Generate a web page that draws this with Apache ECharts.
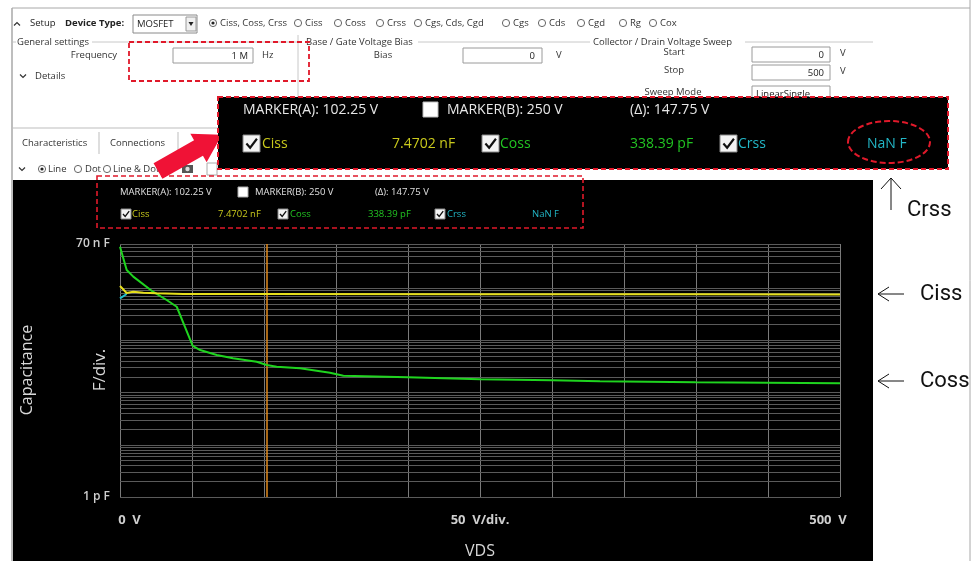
<!DOCTYPE html>
<html><head><meta charset="utf-8">
<script src="https://cdn.jsdelivr.net/npm/echarts@6/dist/echarts.min.js"></script>
<style>html,body{margin:0;padding:0;background:#fff}#c{width:977px;height:561px}</style>
</head><body><div id="c"></div>
<script>
// ---------- data (VDS in V, capacitance in pF) ----------
const vdsCiss = [0, 4.6, 9.2, 16.2, 25.4, 43.8, 100, 250, 400, 500];
const ciss    = [11000, 8070, 8540, 8170, 7960, 7720, 7700, 7650, 7600, 7550];
const vdsCoss = [0, 4.65, 9.2, 22.9, 32.4, 39.4, 45.1, 50.5, 55.6, 67.2, 78.5, 94.9, 101.9, 108.8, 125, 145.8, 155.1, 199.8, 250, 299.8, 333.3, 399.8, 449.3, 500];
const coss    = [62100, 22200, 16600, 8540, 5920, 4400, 1820, 780, 653, 524, 453, 390, 337, 313, 292, 240, 210, 196, 179, 172, 164, 157, 154, 150];
const vdsCrss = [0, 4.6];
const crss    = [6380, 7710];
const markerA = 102.25;
const markerALabel = 'MARKER(A): 102.25 V';
const markerBLabel = 'MARKER(B): 250 V';
const deltaLabel = '(\u0394): 147.75 V';
const seriesNames = ['Ciss', 'Coss', 'Crss'];
const readouts = ['7.4702 nF', '338.39 pF', 'NaN F'];
const xTickText = {0: '{a|0  V}', 250: '{b|50  V/div.}', 500: '{c|500  V}'};
const yMinLabel = '1 p F', yMaxLabel = '70 n F';
const yMin = 1, yMax = 70000;
const decades = [1, 10, 100, 1000, 10000];
const deviceTypes = ['Ciss, Coss, Crss', 'Ciss', 'Coss', 'Crss', 'Cgs, Cds, Cgd', 'Cgs', 'Cds', 'Cgd', 'Rg', 'Cox'];

// ---------- helpers ----------
const COL = {ciss: '#e6df1c', coss: '#1fd41f', crss: '#1fbfcf', txtCiss: '#c9c91c', txtCoss: '#22c422', txtCrss: '#22b6c6'};
const UI = '"Open Sans", "Noto Sans", sans-serif';
const pair = (xs, ys) => xs.map((x, i) => [x, ys[i]]);
const G = [];
function txt(x, y, text, font, fill, align, z) {
  G.push({type: 'text', z: z || 5, style: {x, y, text, font, fill: fill || '#222', textAlign: align || 'left', textVerticalAlign: 'middle'}});
}
function vtxt(x, y, text, font, fill) {
  G.push({type: 'text', z: 5, rotation: Math.PI / 2, x, y, style: {x: 0, y: 0, text, font, fill, textAlign: 'center', textVerticalAlign: 'middle'}});
}
function line(x1, y1, x2, y2, stroke, w, z, dash) {
  G.push({type: 'line', z: z || 4, shape: {x1, y1, x2, y2}, style: {stroke, lineWidth: w || 1, lineDash: dash || null}});
}
function rect(x, y, w, h, fill, stroke, z, lw, dash) {
  G.push({type: 'rect', z: z || 4, shape: {x, y, width: w, height: h}, style: {fill: fill || 'none', stroke: stroke || null, lineWidth: lw || 1, lineDash: dash || null}});
}
function radio(x, y, on) {
  G.push({type: 'circle', z: 5, shape: {cx: x, cy: y, r: 3.6}, style: {fill: '#fff', stroke: '#666', lineWidth: 1}});
  if (on) G.push({type: 'circle', z: 6, shape: {cx: x, cy: y, r: 1.6}, style: {fill: '#222'}});
}
function checkbox(x, y, s, checked, z) {
  rect(x, y, s, s, '#f4f4f4', '#888', z, 1);
  if (checked) G.push({type: 'polyline', z: z + 1, shape: {points: [[x + s * 0.2, y + s * 0.5], [x + s * 0.42, y + s * 0.75], [x + s * 0.82, y + s * 0.22]]}, style: {stroke: '#111', lineWidth: Math.max(1.3, s / 8), fill: null}});
}
function chevron(x, y, up) {
  const d = up ? -1 : 1;
  G.push({type: 'polyline', z: 5, shape: {points: [[x - 3, y - 1.5 * d], [x, y + 1.5 * d], [x + 3, y - 1.5 * d]]}, style: {stroke: '#333', lineWidth: 1.2, fill: null}});
}

// ---------- window chrome ----------
line(12, 8, 970, 8, '#a8a8a8', 1, 3);
line(12, 8, 12, 561, '#a8a8a8', 1.5, 3);
line(970, 0, 970, 561, '#a8a8a8', 1, 3);

// Row 1
chevron(17, 24, true);
txt(30, 23, 'Setup', '9.5px ' + UI);
txt(65, 23, 'Device Type:', 'bold 9.5px ' + UI);
rect(133, 15, 64, 18, '#fff', '#8a8a8a', 4);
txt(137, 24, 'MOSFET', '9.5px ' + UI);
rect(186, 17, 10, 14, '#f0f0f0', '#9a9a9a', 5);
G.push({type: 'polygon', z: 6, shape: {points: [[188.5, 22], [193.5, 22], [191, 26]]}, style: {fill: '#222'}});
const radioX = [213, 298, 338, 380, 418, 506, 542, 581, 623, 653];
deviceTypes.forEach((t, i) => { radio(radioX[i], 23, i === 0); txt(radioX[i] + 7, 23, t, '9.5px ' + UI, '#333'); });

// group boxes
txt(17, 42, 'General settings', '9.5px ' + UI, '#333');
line(13, 42, 16, 42, '#c8c8c8');
line(92, 42, 297, 42, '#c8c8c8');
line(298, 35, 298, 128, '#c8c8c8');
txt(306, 42, 'Base / Gate Voltage Bias', '9.5px ' + UI, '#333');
line(418, 42, 590, 42, '#c8c8c8');
txt(593, 42, 'Collector / Drain Voltage Sweep', '9.5px ' + UI, '#333');
line(745, 42, 873, 42, '#c8c8c8');

txt(117, 55, 'Frequency', '9.5px ' + UI, '#333', 'right');
rect(173, 48, 80, 15, '#fff', '#9a9a9a');
txt(248, 56, '1 M', '9.5px ' + UI, '#222', 'right');
txt(262, 55, 'Hz', '9.5px ' + UI, '#333');
rect(129, 42, 180, 39, null, '#e0192a', 7, 1.8, [5, 3]);
chevron(23, 76, false);
txt(35, 76, 'Details', '9.5px ' + UI, '#333');

txt(383, 55, 'Bias', '9.5px ' + UI, '#333', 'center');
rect(463, 48, 79, 15, '#fff', '#9a9a9a');
txt(535, 56, '0', '9.5px ' + UI, '#222', 'right');
txt(556, 55, 'V', '9.5px ' + UI, '#333');

txt(674, 52, 'Start', '9.5px ' + UI, '#333', 'center');
rect(752, 47, 78, 15, '#fff', '#9a9a9a');
txt(824, 55, '0', '9.5px ' + UI, '#222', 'right');
txt(840, 53, 'V', '9.5px ' + UI, '#333');
txt(674, 70, 'Stop', '9.5px ' + UI, '#333', 'center');
rect(752, 65, 78, 15, '#fff', '#9a9a9a');
txt(824, 73, '500', '9.5px ' + UI, '#222', 'right');
txt(840, 71, 'V', '9.5px ' + UI, '#333');
txt(673, 92, 'Sweep Mode', '9.5px ' + UI, '#333', 'center');
rect(752, 86, 78, 15, '#fff', '#9a9a9a');
txt(756, 94, 'LinearSingle', '9.5px ' + UI, '#222');

// tabs
line(12, 128, 218, 128, '#bdbdbd');
txt(22, 143, 'Characteristics', '9.5px ' + UI, '#333');
line(99, 132, 99, 154, '#bdbdbd');
txt(110, 143, 'Connections', '9.5px ' + UI, '#333');
line(178, 132, 178, 154, '#bdbdbd');
chevron(22, 169, false);
radio(42, 169, true); txt(48, 169, 'Line', '9.5px ' + UI, '#333');
radio(78, 169, false); txt(85, 169, 'Dot', '9.5px ' + UI, '#333');
radio(107, 169, false); txt(113, 169, 'Line & Dot', '9.5px ' + UI, '#333');
rect(182, 165, 11, 8, '#555', null, 5);
G.push({type: 'circle', z: 6, shape: {cx: 187.5, cy: 169, r: 2.2}, style: {fill: '#ddd'}});
rect(207, 163, 10, 12, '#fff', '#aaa', 5);

// black chart panel
rect(13, 180, 860, 381, '#000', null, -10);

// small marker panel (inside chart)
const sf = '9.5px ' + UI;
txt(120, 192, markerALabel, sf, '#e0e0e0', 'left', 10);
rect(238, 187, 10, 10, '#fff', '#aaa', 10);
txt(255, 192, markerBLabel, sf, '#e0e0e0', 'left', 10);
txt(375, 192, deltaLabel, sf, '#e0e0e0', 'left', 10);
const smallChk = [121, 278, 435], smallName = [132, 290, 447], smallVal = [218, 368, 532];
const txtCols = [COL.txtCiss, COL.txtCoss, COL.txtCrss];
seriesNames.forEach((n, i) => {
  checkbox(smallChk[i], 209, 10, true, 10);
  txt(smallName[i], 214, n, sf, txtCols[i], 'left', 10);
  txt(smallVal[i], 214, readouts[i], sf, txtCols[i], 'left', 10);
});
rect(97, 176, 486, 52, null, '#e0192a', 12, 1.6, [5, 3]);

// red arrow (under the big panel)
(function () {
  const T = [158, 171], HB = [198.5, 148], L = 27;
  const dx = HB[0] - T[0], dy = HB[1] - T[1], len = Math.hypot(dx, dy);
  const u = [dx / len, dy / len], n = [-u[1], u[0]];
  const bw = 9, hw = 16.5;
  const p = (b, s, k) => [b[0] + n[0] * s + u[0] * (k || 0), b[1] + n[1] * s + u[1] * (k || 0)];
  const pts = [p(T, bw), p(HB, bw), p(HB, hw), p(HB, 0, L), p(HB, -hw), p(HB, -bw), p(T, -bw)];
  G.push({type: 'polygon', z: 18, shape: {points: pts}, style: {fill: '#f01236'}});
})();

// big marker panel (zoomed inset)
rect(218, 97, 730, 72, '#000', '#e0192a', 20, 2, [5, 3]);
const bf = '14px ' + UI;
txt(243, 110, markerALabel, bf, '#e6e6e6', 'left', 22);
rect(423, 102, 15, 15, '#fff', '#bbb', 22);
txt(447, 110, markerBLabel, bf, '#e6e6e6', 'left', 22);
txt(630, 110, deltaLabel, bf, '#e6e6e6', 'left', 22);
const bigChk = [243, 482, 720], bigName = [262, 500, 738], bigVal = [392, 630, 867];
seriesNames.forEach((n, i) => {
  checkbox(bigChk[i], 135, 17, true, 22);
  txt(bigName[i], 144, n, bf, txtCols[i], 'left', 22);
  txt(bigVal[i], 144, readouts[i], bf, txtCols[i], 'left', 22);
});
G.push({type: 'ellipse', z: 24, shape: {cx: 889, cy: 142, rx: 41, ry: 21}, style: {fill: null, stroke: '#e0192a', lineWidth: 2, lineDash: [6, 3]}});

// right annotations
const AF = '22px Roboto, "Liberation Sans", sans-serif';
line(891, 210, 891, 178, '#111', 1, 8);
G.push({type: 'polyline', z: 8, shape: {points: [[881, 189], [891, 178], [901, 189]]}, style: {stroke: '#111', lineWidth: 1, fill: null}});
txt(907, 210, 'Crss', AF, '#111', 'left', 8);
[[294, 'Ciss'], [381, 'Coss']].forEach(([y, t]) => {
  line(878, y, 904, y, '#111', 1, 8);
  G.push({type: 'polyline', z: 8, shape: {points: [[889, y - 7], [878, y], [889, y + 7]]}, style: {stroke: '#111', lineWidth: 1, fill: null}});
  txt(920, y, t, AF, '#111', 'left', 8);
});
// y titles
vtxt(27, 370, 'Capacitance', '16px ' + UI, '#d8d8d8');
vtxt(100, 370, 'F/div.', '17px ' + UI, '#d8d8d8');

// gridline values for log axis
const hLines = [];
decades.forEach(d => { for (let m = 1; m <= 9; m++) if (d * m <= yMax) hLines.push({yAxis: d * m}); });

const chart = echarts.init(document.getElementById('c'), null, {renderer: 'canvas'});
chart.setOption({
  backgroundColor: '#fff',
  animation: false,
  graphic: {elements: G},
  grid: {left: 120, right: 137, top: 244, bottom: 64, containLabel: false},
  xAxis: {
    type: 'value', min: 0, max: 500, interval: 50,
    name: 'VDS', nameLocation: 'middle', nameGap: 46,
    nameTextStyle: {color: '#d8d8d8', fontSize: 16, fontFamily: UI},
    axisLine: {show: false}, axisTick: {show: false},
    splitLine: {show: true, lineStyle: {color: '#7a7a7a', width: 1}},
    axisLabel: {
      margin: 17, color: '#cfcfcf', fontFamily: UI, fontSize: 13, fontWeight: 'bold',
      formatter: v => xTickText[v] || '',
      rich: {a: {padding: [0, 0, 0, 19], color: '#cfcfcf', fontSize: 13, fontWeight: 'bold', fontFamily: UI},
             b: {color: '#cfcfcf', fontSize: 13, fontWeight: 'bold', fontFamily: UI},
             c: {padding: [0, 24, 0, 0], color: '#cfcfcf', fontSize: 13, fontWeight: 'bold', fontFamily: UI}}
    }
  },
  yAxis: {
    type: 'log', logBase: 10, min: yMin, max: yMax,
    axisLine: {show: false}, axisTick: {show: false}, splitLine: {show: false},
    axisLabel: {
      margin: 10, color: '#cfcfcf', fontFamily: UI, fontSize: 12, fontWeight: 600,
      showMinLabel: true, showMaxLabel: true,
      formatter: v => (v >= yMax * 0.98 ? yMaxLabel : (v <= yMin * 1.02 ? yMinLabel : ''))
    }
  },
  series: [
    {type: 'line', name: 'grid', data: [], silent: true,
     markLine: {silent: true, symbol: 'none', label: {show: false}, animation: false,
       lineStyle: {color: '#5a5a5a', width: 1, type: 'solid', opacity: 1}, data: hLines}},
    {type: 'line', name: 'Coss', data: pair(vdsCoss, coss), showSymbol: false, symbol: 'none',
     lineStyle: {color: COL.coss, width: 2}, itemStyle: {color: COL.coss}, z: 5,
     markLine: {silent: true, symbol: 'none', label: {show: false}, animation: false,
       lineStyle: {color: '#e08a1e', width: 1.5, type: 'solid'}, data: [{xAxis: markerA}]}},
    {type: 'line', name: 'Crss', data: pair(vdsCrss, crss), showSymbol: false, symbol: 'none',
     lineStyle: {color: COL.crss, width: 2}, itemStyle: {color: COL.crss}, z: 6},
    {type: 'line', name: 'Ciss', data: pair(vdsCiss, ciss), showSymbol: false, symbol: 'none',
     lineStyle: {color: COL.ciss, width: 2}, itemStyle: {color: COL.ciss}, z: 7}
  ]
});
</script></body></html>
